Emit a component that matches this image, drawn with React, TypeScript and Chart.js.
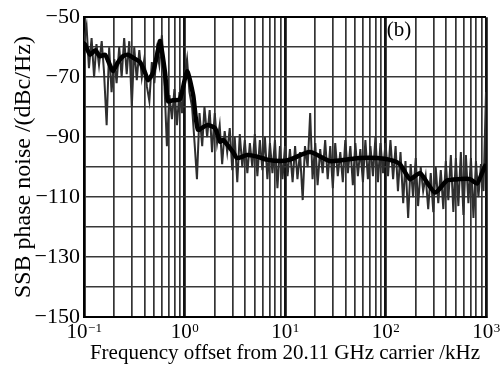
import React, { useEffect, useRef } from 'react';
import { Chart, registerables } from 'chart.js';

Chart.register(...registerables);

// Smoothed (averaged) phase-noise curve
const smoothFreq = [0.1, 0.102, 0.115, 0.129, 0.144, 0.162, 0.181, 0.194, 0.218, 0.245, 0.274, 0.307, 0.361, 0.405, 0.433, 0.486, 0.545, 0.571, 0.64, 0.685, 0.768, 0.902, 1.06, 1.22, 1.36, 1.68, 2.01, 2.26, 2.42, 3.04, 3.33, 4.19, 5.27, 6.62, 8.92, 11.2, 17.7, 28.0, 41.4, 55.8, 82.3, 111, 139, 175, 220, 311, 409, 551, 693, 814, 912, 1000];
const smoothDb = [-60, -59, -62.5, -61, -63, -62.5, -66, -68, -65, -63, -62.5, -63.5, -65, -68.5, -71, -68.5, -61, -58, -68.5, -78, -77.7, -77.4, -68, -76, -87.5, -86, -87, -91.5, -91, -95, -97, -96, -96.5, -97.5, -98, -97.5, -95, -98, -97.5, -97, -97, -97.6, -99, -104, -102, -108.5, -104.5, -104, -104, -105.5, -102, -99];

// Raw (noisy) measured trace
const noiseFreq = [
  0.100, 0.106, 0.112, 0.119, 0.126, 0.133, 0.141, 0.150, 0.158, 0.168, 0.178, 0.188, 0.200, 0.211, 0.224, 0.237, 0.251, 0.266, 0.282, 0.299,
  0.316, 0.335, 0.355, 0.376, 0.398, 0.422, 0.447, 0.473, 0.501, 0.531, 0.562, 0.596, 0.631, 0.668, 0.708, 0.750, 0.794, 0.841, 0.891, 0.944,
  1.00, 1.06, 1.12, 1.19, 1.26, 1.33, 1.41, 1.50, 1.58, 1.68, 1.78, 1.88, 2.00, 2.11, 2.24, 2.37, 2.51, 2.66, 2.82, 2.99,
  3.16, 3.35, 3.55, 3.76, 3.98, 4.22, 4.47, 4.73, 5.01, 5.31, 5.62, 5.96, 6.31, 6.68, 7.08, 7.50, 7.94, 8.41, 8.91, 9.44,
  10.0, 10.6, 11.2, 11.9, 12.6, 13.3, 14.1, 15.0, 15.8, 16.8, 17.8, 18.8, 20.0, 21.1, 22.4, 23.7, 25.1, 26.6, 28.2, 29.9,
  31.6, 33.5, 35.5, 37.6, 39.8, 42.2, 44.7, 47.3, 50.1, 53.1, 56.2, 59.6, 63.1, 66.8, 70.8, 75.0, 79.4, 84.1, 89.1, 94.4,
  100, 106, 112, 119, 126, 133, 141, 150, 158, 168, 178, 188, 200, 211, 224, 237, 251, 266, 282, 299,
  316, 335, 355, 376, 398, 422, 447, 473, 501, 531, 562, 596, 631, 668, 708, 750, 794, 841, 891, 944, 1000
];
const noiseDb = [
  -58, -53, -67, -57, -70, -59, -66, -58, -68, -86, -60, -75, -64, -72, -60, -70, -57, -69, -58, -80,
  -60, -71, -61, -70, -64, -73, -78, -65, -72, -61, -66, -56, -72, -93, -76, -84, -74, -86, -75, -82,
  -70, -64, -75, -80, -92, -104, -82, -93, -80, -90, -81, -95, -82, -92, -86, -99, -88, -95, -87, -101,
  -90, -105, -89, -100, -91, -102, -92, -100, -89, -103, -91, -101, -90, -104, -92, -102, -91, -107, -93, -104,
  -93, -103, -94, -105, -93, -104, -95, -111, -93, -100, -82, -104, -92, -106, -94, -102, -91, -104, -93, -107,
  -92, -103, -95, -105, -91, -102, -93, -106, -92, -103, -94, -105, -91, -104, -93, -103, -90, -105, -92, -102,
  -92, -103, -91, -104, -93, -108, -95, -112, -98, -117, -99, -110, -97, -113, -100, -108, -103, -114, -102, -115,
  -100, -112, -101, -114, -98, -111, -96, -115, -97, -113, -95, -116, -96, -112, -97, -117, -98, -110, -99, -108, -75
];

// Axis ticks / labels
const xGridTicks = [
  0.1, 0.2, 0.3, 0.4, 0.5, 0.6, 0.7, 0.8, 0.9,
  1, 2, 3, 4, 5, 6, 7, 8, 9,
  10, 20, 30, 40, 50, 60, 70, 80, 90,
  100, 200, 300, 400, 500, 600, 700, 800, 900, 1000
];
const xDecades = [0.1, 1, 10, 100, 1000];
const xExponents = ['\u22121', '0', '1', '2', '3'];
const yLabelValues = [-50, -70, -90, -110, -130, -150];
const xTitle = 'Frequency offset from 20.11 GHz carrier /kHz';
const yTitle = 'SSB phase noise /(dBc/Hz)';
const panelLabel = '(b)';

const SERIF = "'Liberation Serif', 'Times New Roman', serif";

const isDecade = (v: number) => Math.abs(Math.log10(v) - Math.round(Math.log10(v))) < 1e-6;

export default function App() {
  const ref = useRef<HTMLCanvasElement>(null);

  useEffect(() => {
    if (!ref.current) return;

    const labelPlugin = {
      id: 'customLabels',
      afterDraw(chart: any) {
        const ctx = chart.ctx;
        const xs = chart.scales.x;
        const area = chart.chartArea;
        ctx.save();
        ctx.fillStyle = '#000';
        ctx.textBaseline = 'alphabetic';
        ctx.textAlign = 'left';
        xDecades.forEach((d, i) => {
          ctx.font = `21px ${SERIF}`;
          const bw = ctx.measureText('10').width;
          ctx.font = `13px ${SERIF}`;
          const ew = ctx.measureText(xExponents[i]).width;
          const px = xs.getPixelForValue(d);
          const start = px - (bw + ew) / 2;
          ctx.font = `21px ${SERIF}`;
          ctx.fillText('10', start, area.bottom + 21);
          ctx.font = `13px ${SERIF}`;
          ctx.fillText(xExponents[i], start + bw + 0.5, area.bottom + 15);
        });
        ctx.font = `21px ${SERIF}`;
        ctx.textAlign = 'center';
        ctx.fillText(panelLabel, area.right - 87, area.top + 19);
        ctx.restore();
      },
    };

    const chart = new Chart(ref.current, {
      type: 'line',
      data: {
        datasets: [
          {
            label: 'smoothed',
            data: smoothFreq.map((f, i) => ({ x: f, y: smoothDb[i] })),
            borderColor: '#000',
            borderWidth: 4.5,
            pointRadius: 0,
            tension: 0.2,
            fill: false,
          },
          {
            label: 'raw',
            data: noiseFreq.map((f, i) => ({ x: f, y: noiseDb[i] })),
            borderColor: '#2e2e2e',
            borderWidth: 2,
            pointRadius: 0,
            tension: 0,
            fill: false,
          },
        ],
      },
      options: {
        animation: false,
        responsive: true,
        maintainAspectRatio: false,
        devicePixelRatio: 1,
        layout: { padding: { left: 0, right: 15, top: 14, bottom: 0 } },
        plugins: {
          legend: { display: false },
          tooltip: { enabled: false },
        },
        scales: {
          x: {
            type: 'logarithmic',
            min: 0.1,
            max: 1000,
            afterBuildTicks: (scale: any) => {
              scale.ticks = xGridTicks.map((v) => ({ value: v }));
            },
            afterFit: (scale: any) => {
              scale.height = 50;
            },
            ticks: { display: false },
            grid: {
              drawTicks: false,
              color: (c: any) => (c.tick && isDecade(c.tick.value) ? '#111' : '#333'),
              lineWidth: (c: any) => (c.tick && isDecade(c.tick.value) ? 2.8 : 1.7),
            },
            border: { display: true, color: '#000', width: 2 },
            title: {
              display: true,
              text: xTitle,
              color: '#000',
              font: { family: SERIF, size: 21 },
              padding: { top: 0, bottom: 0.5 },
            },
          },
          y: {
            type: 'linear',
            min: -150,
            max: -50,
            afterFit: (scale: any) => {
              scale.width = 84;
            },
            ticks: {
              stepSize: 10,
              padding: 4,
              color: '#000',
              font: { family: SERIF, size: 22 },
              callback: (v: any) => (yLabelValues.includes(Number(v)) ? '\u2212' + Math.abs(Number(v)) : ''),
            },
            grid: {
              drawTicks: false,
              color: (c: any) => (c.tick && c.tick.value === -50 ? '#000' : '#383838'),
              lineWidth: (c: any) => (c.tick && c.tick.value === -50 ? 2 : 1.5),
            },
            border: { display: true, color: '#000', width: 2 },
            title: {
              display: true,
              text: yTitle,
              color: '#000',
              font: { family: SERIF, size: 24 },
              padding: { top: 9, bottom: 0 },
            },
          },
        },
      },
      plugins: [labelPlugin],
    } as any);

    return () => chart.destroy();
  }, []);

  return (
    <div style={{ position: 'fixed', left: 0, top: 0, width: 501, height: 367, background: '#fff' }}>
      <canvas ref={ref} />
    </div>
  );
}
